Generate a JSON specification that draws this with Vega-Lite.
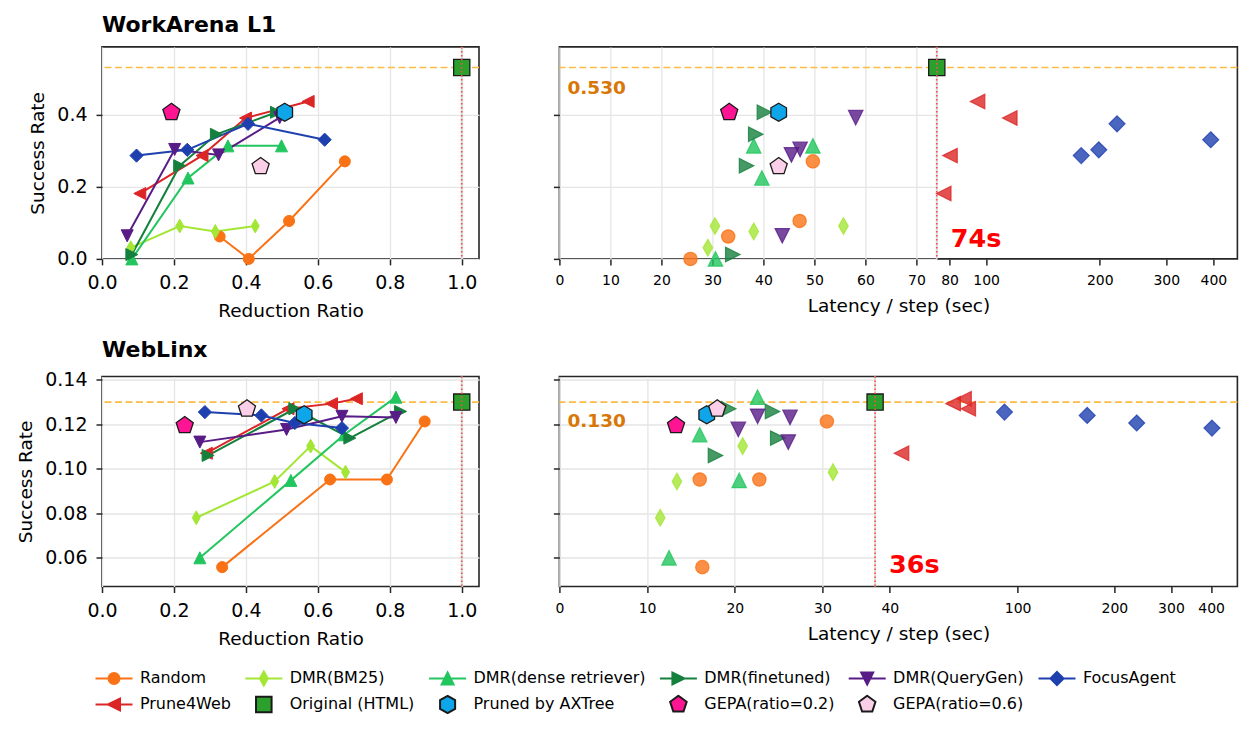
{
  "$schema": "https://vega.github.io/schema/vega-lite/v6.json",
  "background": "white",
  "padding": {"left": 15, "top": 12.9, "right": 10, "bottom": 5},
  "config": {
    "font": "DejaVu Sans",
    "view": {"stroke": "#262626", "strokeWidth": 1.6},
    "axis": {"domain": false, "grid": true, "gridColor": "#e5e5e5", "gridWidth": 1.3, "tickColor": "#262626", "tickWidth": 1.5, "tickSize": 6, "labelFont": "DejaVu Sans", "labelFontSize": 19, "labelColor": "#000000", "labelPadding": 9, "labelFlush": false, "labelOverlap": false, "labelBound": false, "titleFont": "DejaVu Sans", "titleFontSize": 18.5, "titleFontWeight": "normal", "titleColor": "#000000", "titlePadding": 9},
    "title": {"font": "DejaVu Sans", "fontSize": 22, "fontWeight": "bold", "color": "#000000", "anchor": "start", "frame": "group", "baseline": "alphabetic", "offset": 8.5}
  },
  "datasets": {
    "pts": [
      {"bench": "WorkArena L1", "series": "Random", "ratio": 0.327, "success": 0.062, "latency": 33.1},
      {"bench": "WorkArena L1", "series": "Random", "ratio": 0.408, "success": 0.0, "latency": 25.7},
      {"bench": "WorkArena L1", "series": "Random", "ratio": 0.52, "success": 0.105, "latency": 47.1},
      {"bench": "WorkArena L1", "series": "Random", "ratio": 0.675, "success": 0.27, "latency": 49.7},
      {"bench": "WorkArena L1", "series": "Prune4Web", "ratio": 0.105, "success": 0.181, "latency": 77.2},
      {"bench": "WorkArena L1", "series": "Prune4Web", "ratio": 0.278, "success": 0.286, "latency": 80.2},
      {"bench": "WorkArena L1", "series": "Prune4Web", "ratio": 0.399, "success": 0.39, "latency": 115.5},
      {"bench": "WorkArena L1", "series": "Prune4Web", "ratio": 0.573, "success": 0.436, "latency": 94.9},
      {"bench": "WorkArena L1", "series": "DMR(BM25)", "ratio": 0.08, "success": 0.031, "latency": 29.1},
      {"bench": "WorkArena L1", "series": "DMR(BM25)", "ratio": 0.216, "success": 0.091, "latency": 30.5},
      {"bench": "WorkArena L1", "series": "DMR(BM25)", "ratio": 0.315, "success": 0.076, "latency": 38.1},
      {"bench": "WorkArena L1", "series": "DMR(BM25)", "ratio": 0.426, "success": 0.091, "latency": 55.7},
      {"bench": "WorkArena L1", "series": "DMR(dense retriever)", "ratio": 0.083, "success": 0.0, "latency": 30.6},
      {"bench": "WorkArena L1", "series": "DMR(dense retriever)", "ratio": 0.239, "success": 0.224, "latency": 39.7},
      {"bench": "WorkArena L1", "series": "DMR(dense retriever)", "ratio": 0.35, "success": 0.313, "latency": 38.1},
      {"bench": "WorkArena L1", "series": "DMR(dense retriever)", "ratio": 0.499, "success": 0.313, "latency": 49.7},
      {"bench": "WorkArena L1", "series": "DMR(finetuned)", "ratio": 0.083, "success": 0.012, "latency": 34.0},
      {"bench": "WorkArena L1", "series": "DMR(finetuned)", "ratio": 0.216, "success": 0.258, "latency": 36.7},
      {"bench": "WorkArena L1", "series": "DMR(finetuned)", "ratio": 0.318, "success": 0.345, "latency": 38.5},
      {"bench": "WorkArena L1", "series": "DMR(finetuned)", "ratio": 0.485, "success": 0.406, "latency": 40.2},
      {"bench": "WorkArena L1", "series": "DMR(QueryGen)", "ratio": 0.07, "success": 0.064, "latency": 43.7},
      {"bench": "WorkArena L1", "series": "DMR(QueryGen)", "ratio": 0.202, "success": 0.303, "latency": 47.2},
      {"bench": "WorkArena L1", "series": "DMR(QueryGen)", "ratio": 0.324, "success": 0.288, "latency": 45.5},
      {"bench": "WorkArena L1", "series": "DMR(QueryGen)", "ratio": 0.494, "success": 0.391, "latency": 58.1},
      {"bench": "WorkArena L1", "series": "FocusAgent", "ratio": 0.096, "success": 0.286, "latency": 178.6},
      {"bench": "WorkArena L1", "series": "FocusAgent", "ratio": 0.237, "success": 0.302, "latency": 198.8},
      {"bench": "WorkArena L1", "series": "FocusAgent", "ratio": 0.406, "success": 0.374, "latency": 222.2},
      {"bench": "WorkArena L1", "series": "FocusAgent", "ratio": 0.619, "success": 0.33, "latency": 393.5},
      {"bench": "WorkArena L1", "series": "Original (HTML)", "ratio": 1.0, "success": 0.53, "latency": 74},
      {"bench": "WorkArena L1", "series": "Pruned by AXTree", "ratio": 0.508, "success": 0.406, "latency": 43.0},
      {"bench": "WorkArena L1", "series": "GEPA(ratio=0.2)", "ratio": 0.193, "success": 0.406, "latency": 33.3},
      {"bench": "WorkArena L1", "series": "GEPA(ratio=0.6)", "ratio": 0.441, "success": 0.256, "latency": 43.0},
      {"bench": "WebLinx", "series": "Random", "ratio": 0.334, "success": 0.0558, "latency": 16.3},
      {"bench": "WebLinx", "series": "Random", "ratio": 0.634, "success": 0.0952, "latency": 16.0},
      {"bench": "WebLinx", "series": "Random", "ratio": 0.792, "success": 0.0952, "latency": 22.8},
      {"bench": "WebLinx", "series": "Random", "ratio": 0.897, "success": 0.1213, "latency": 30.5},
      {"bench": "WebLinx", "series": "Prune4Web", "ratio": 0.29, "success": 0.107, "latency": 43.5},
      {"bench": "WebLinx", "series": "Prune4Web", "ratio": 0.517, "success": 0.127, "latency": 70.2},
      {"bench": "WebLinx", "series": "Prune4Web", "ratio": 0.638, "success": 0.1293, "latency": 63.0},
      {"bench": "WebLinx", "series": "Prune4Web", "ratio": 0.707, "success": 0.1315, "latency": 68.1},
      {"bench": "WebLinx", "series": "DMR(BM25)", "ratio": 0.262, "success": 0.078, "latency": 11.5},
      {"bench": "WebLinx", "series": "DMR(BM25)", "ratio": 0.48, "success": 0.0943, "latency": 13.4},
      {"bench": "WebLinx", "series": "DMR(BM25)", "ratio": 0.58, "success": 0.1102, "latency": 20.9},
      {"bench": "WebLinx", "series": "DMR(BM25)", "ratio": 0.677, "success": 0.0985, "latency": 31.2},
      {"bench": "WebLinx", "series": "DMR(dense retriever)", "ratio": 0.272, "success": 0.06, "latency": 12.5},
      {"bench": "WebLinx", "series": "DMR(dense retriever)", "ratio": 0.525, "success": 0.0948, "latency": 20.5},
      {"bench": "WebLinx", "series": "DMR(dense retriever)", "ratio": 0.673, "success": 0.1153, "latency": 16.0},
      {"bench": "WebLinx", "series": "DMR(dense retriever)", "ratio": 0.817, "success": 0.1322, "latency": 22.6},
      {"bench": "WebLinx", "series": "DMR(finetuned)", "ratio": 0.295, "success": 0.106, "latency": 17.8},
      {"bench": "WebLinx", "series": "DMR(finetuned)", "ratio": 0.536, "success": 0.127, "latency": 19.3},
      {"bench": "WebLinx", "series": "DMR(finetuned)", "ratio": 0.689, "success": 0.1138, "latency": 24.9},
      {"bench": "WebLinx", "series": "DMR(finetuned)", "ratio": 0.83, "success": 0.1258, "latency": 24.3},
      {"bench": "WebLinx", "series": "DMR(QueryGen)", "ratio": 0.272, "success": 0.112, "latency": 26.1},
      {"bench": "WebLinx", "series": "DMR(QueryGen)", "ratio": 0.513, "success": 0.1177, "latency": 20.4},
      {"bench": "WebLinx", "series": "DMR(QueryGen)", "ratio": 0.667, "success": 0.1236, "latency": 22.6},
      {"bench": "WebLinx", "series": "DMR(QueryGen)", "ratio": 0.817, "success": 0.1231, "latency": 26.3},
      {"bench": "WebLinx", "series": "FocusAgent", "ratio": 0.286, "success": 0.1255, "latency": 91.0},
      {"bench": "WebLinx", "series": "FocusAgent", "ratio": 0.443, "success": 0.124, "latency": 164.6},
      {"bench": "WebLinx", "series": "FocusAgent", "ratio": 0.536, "success": 0.1206, "latency": 234.7},
      {"bench": "WebLinx", "series": "FocusAgent", "ratio": 0.667, "success": 0.1183, "latency": 402.5},
      {"bench": "WebLinx", "series": "Original (HTML)", "ratio": 1.0, "success": 0.13, "latency": 36},
      {"bench": "WebLinx", "series": "Pruned by AXTree", "ratio": 0.562, "success": 0.1243, "latency": 16.8},
      {"bench": "WebLinx", "series": "GEPA(ratio=0.2)", "ratio": 0.23, "success": 0.1195, "latency": 13.3},
      {"bench": "WebLinx", "series": "GEPA(ratio=0.6)", "ratio": 0.403, "success": 0.127, "latency": 18.0}
    ]
  },
  "columns": 2,
  "bounds": "flush",
  "spacing": {"row": 117.6, "column": 80.4},
  "resolve": {"scale": {"color": "independent", "shape": "independent", "stroke": "independent"}},
  "concat": [
    {
      "width": 377, "height": 212,
      "title": {"text": "WorkArena L1"},
      "data": {"name": "pts"},
      "transform": [{"filter": "datum.bench === 'WorkArena L1'"}],
      "layer": [
        {"transform": [{"filter": "datum.series === 'Original (HTML)'"}], "mark": {"type": "rule", "color": "#d9d9d9", "strokeWidth": 2},
         "encoding": {"x": {"field": "ratio", "type": "quantitative", "scale": {"domain": [0, 1.048], "nice": false, "zero": false}, "axis": {"values": [0, 0.2, 0.4, 0.6, 0.8, 1], "format": ".1f", "title": "Reduction Ratio"}}}},
        {"transform": [{"filter": "datum.series === 'Original (HTML)'"}], "mark": {"type": "rule", "color": "#fdba45", "strokeWidth": 1.6, "strokeDash": [7, 3.5]},
         "encoding": {"y": {"field": "success", "type": "quantitative", "scale": {"domain": [0, 0.587], "nice": false, "zero": false}, "axis": {"values": [0, 0.2, 0.4], "format": ".1f", "title": "Success Rate"}}}},
        {"transform": [{"filter": "indexof(['Original (HTML)','Pruned by AXTree','GEPA(ratio=0.2)','GEPA(ratio=0.6)'], datum.series) < 0"}],
         "mark": {"type": "line", "strokeWidth": 2},
         "encoding": {
           "x": {"field": "ratio", "type": "quantitative", "scale": {"domain": [0, 1.048], "nice": false, "zero": false}, "axis": {"values": [0, 0.2, 0.4, 0.6, 0.8, 1], "format": ".1f", "title": "Reduction Ratio"}},
           "y": {"field": "success", "type": "quantitative", "scale": {"domain": [0, 0.587], "nice": false, "zero": false}, "axis": {"values": [0, 0.2, 0.4], "format": ".1f", "title": "Success Rate"}},
           "color": {"field": "series", "type": "nominal", "legend": null, "scale": {"domain": ["Random", "DMR(BM25)", "DMR(dense retriever)", "DMR(finetuned)", "DMR(QueryGen)", "FocusAgent", "Prune4Web", "Original (HTML)", "Pruned by AXTree", "GEPA(ratio=0.2)", "GEPA(ratio=0.6)"], "range": ["#f97316", "#a3e635", "#22c55e", "#15803d", "#581c87", "#1e40af", "#dc2626", "#2ca02c", "#0ea5e9", "#ff1493", "#fbcfe8"]}}
         }},
        {"transform": [{"filter": "indexof(['Original (HTML)','Pruned by AXTree','GEPA(ratio=0.2)','GEPA(ratio=0.6)'], datum.series) < 0"}],
         "mark": {"type": "point", "filled": true, "opacity": 1, "size": 144, "strokeWidth": 1},
         "encoding": {
           "x": {"field": "ratio", "type": "quantitative", "scale": {"domain": [0, 1.048], "nice": false, "zero": false}, "axis": {"values": [0, 0.2, 0.4, 0.6, 0.8, 1], "format": ".1f", "title": "Reduction Ratio"}},
           "y": {"field": "success", "type": "quantitative", "scale": {"domain": [0, 0.587], "nice": false, "zero": false}, "axis": {"values": [0, 0.2, 0.4], "format": ".1f", "title": "Success Rate"}},
           "color": {"field": "series", "type": "nominal", "legend": null, "scale": {"domain": ["Random", "DMR(BM25)", "DMR(dense retriever)", "DMR(finetuned)", "DMR(QueryGen)", "FocusAgent", "Prune4Web", "Original (HTML)", "Pruned by AXTree", "GEPA(ratio=0.2)", "GEPA(ratio=0.6)"], "range": ["#f97316", "#a3e635", "#22c55e", "#15803d", "#581c87", "#1e40af", "#dc2626", "#2ca02c", "#0ea5e9", "#ff1493", "#fbcfe8"]}},
           "stroke": {"field": "series", "type": "nominal", "legend": null, "scale": {"domain": ["Random", "DMR(BM25)", "DMR(dense retriever)", "DMR(finetuned)", "DMR(QueryGen)", "FocusAgent", "Prune4Web", "Original (HTML)", "Pruned by AXTree", "GEPA(ratio=0.2)", "GEPA(ratio=0.6)"], "range": ["#f97316", "#a3e635", "#22c55e", "#15803d", "#581c87", "#1e40af", "#dc2626", "#1a1a1a", "#1a1a1a", "#1a1a1a", "#1a1a1a"]}},
           "shape": {"field": "series", "type": "nominal", "legend": null, "scale": {"domain": ["Random", "DMR(BM25)", "DMR(dense retriever)", "DMR(finetuned)", "DMR(QueryGen)", "FocusAgent", "Prune4Web", "Original (HTML)", "Pruned by AXTree", "GEPA(ratio=0.2)", "GEPA(ratio=0.6)"], "range": ["M0.92,0A0.92,0.92,0,1,1,-0.92,0A0.92,0.92,0,1,1,0.92,0Z", "M0,-1.15L0.66,0L0,1.15L-0.66,0Z", "M0,-1L1,1L-1,1Z", "M1,0L-1,-1L-1,1Z", "M0,1L-1,-1L1,-1Z", "M0,-1.1L1.1,0L0,1.1L-1.1,0Z", "M-1,0L1,-1L1,1Z", "M-0.9,-0.9L0.9,-0.9L0.9,0.9L-0.9,0.9Z", "M0,-1L0.866,-0.5L0.866,0.5L0,1L-0.866,0.5L-0.866,-0.5Z", "M0,-1L0.951,-0.309L0.588,0.809L-0.588,0.809L-0.951,-0.309Z", "M0,-1L0.951,-0.309L0.588,0.809L-0.588,0.809L-0.951,-0.309Z"]}}
         }},
        {"transform": [{"filter": "indexof(['Original (HTML)','Pruned by AXTree','GEPA(ratio=0.2)','GEPA(ratio=0.6)'], datum.series) >= 0"}],
         "mark": {"type": "point", "filled": true, "opacity": 1, "size": 324, "strokeWidth": 1.3},
         "encoding": {
           "x": {"field": "ratio", "type": "quantitative", "scale": {"domain": [0, 1.048], "nice": false, "zero": false}, "axis": {"values": [0, 0.2, 0.4, 0.6, 0.8, 1], "format": ".1f", "title": "Reduction Ratio"}},
           "y": {"field": "success", "type": "quantitative", "scale": {"domain": [0, 0.587], "nice": false, "zero": false}, "axis": {"values": [0, 0.2, 0.4], "format": ".1f", "title": "Success Rate"}},
           "color": {"field": "series", "type": "nominal", "legend": null, "scale": {"domain": ["Random", "DMR(BM25)", "DMR(dense retriever)", "DMR(finetuned)", "DMR(QueryGen)", "FocusAgent", "Prune4Web", "Original (HTML)", "Pruned by AXTree", "GEPA(ratio=0.2)", "GEPA(ratio=0.6)"], "range": ["#f97316", "#a3e635", "#22c55e", "#15803d", "#581c87", "#1e40af", "#dc2626", "#2ca02c", "#0ea5e9", "#ff1493", "#fbcfe8"]}},
           "stroke": {"field": "series", "type": "nominal", "legend": null, "scale": {"domain": ["Random", "DMR(BM25)", "DMR(dense retriever)", "DMR(finetuned)", "DMR(QueryGen)", "FocusAgent", "Prune4Web", "Original (HTML)", "Pruned by AXTree", "GEPA(ratio=0.2)", "GEPA(ratio=0.6)"], "range": ["#f97316", "#a3e635", "#22c55e", "#15803d", "#581c87", "#1e40af", "#dc2626", "#1a1a1a", "#1a1a1a", "#1a1a1a", "#1a1a1a"]}},
           "shape": {"field": "series", "type": "nominal", "legend": null, "scale": {"domain": ["Random", "DMR(BM25)", "DMR(dense retriever)", "DMR(finetuned)", "DMR(QueryGen)", "FocusAgent", "Prune4Web", "Original (HTML)", "Pruned by AXTree", "GEPA(ratio=0.2)", "GEPA(ratio=0.6)"], "range": ["M0.92,0A0.92,0.92,0,1,1,-0.92,0A0.92,0.92,0,1,1,0.92,0Z", "M0,-1.15L0.66,0L0,1.15L-0.66,0Z", "M0,-1L1,1L-1,1Z", "M1,0L-1,-1L-1,1Z", "M0,1L-1,-1L1,-1Z", "M0,-1.1L1.1,0L0,1.1L-1.1,0Z", "M-1,0L1,-1L1,1Z", "M-0.9,-0.9L0.9,-0.9L0.9,0.9L-0.9,0.9Z", "M0,-1L0.866,-0.5L0.866,0.5L0,1L-0.866,0.5L-0.866,-0.5Z", "M0,-1L0.951,-0.309L0.588,0.809L-0.588,0.809L-0.951,-0.309Z", "M0,-1L0.951,-0.309L0.588,0.809L-0.588,0.809L-0.951,-0.309Z"]}}
         }},
        {"transform": [{"filter": "datum.series === 'Original (HTML)'"}], "mark": {"type": "rule", "color": "#ff4d4d", "strokeWidth": 1.6, "strokeDash": [1.6, 2.4]},
         "encoding": {"x": {"field": "ratio", "type": "quantitative", "scale": {"domain": [0, 1.048], "nice": false, "zero": false}, "axis": {"values": [0, 0.2, 0.4, 0.6, 0.8, 1], "format": ".1f", "title": "Reduction Ratio"}}}}
      ]
    },
    {
      "width": 678, "height": 212,
      "data": {"name": "pts"},
      "transform": [{"filter": "datum.bench === 'WorkArena L1'"}],
      "resolve": {"scale": {"x": "independent"}},
      "layer": [
        {"transform": [{"filter": "datum.series === 'Original (HTML)'"}], "mark": {"type": "rule", "color": "#fdba45", "strokeWidth": 1.6, "strokeDash": [7, 3.5]},
         "encoding": {"y": {"field": "success", "type": "quantitative", "scale": {"domain": [0, 0.587], "nice": false, "zero": false}, "axis": {"values": [0, 0.2, 0.4], "labels": false, "title": null}}}},
        {
          "transform": [{"filter": "datum.latency <= 74"}],
          "layer": [
            {"transform": [{"filter": "datum.series === 'Original (HTML)'"}], "mark": {"type": "rule", "color": "#d9d9d9", "strokeWidth": 2},
             "encoding": {"x": {"field": "latency", "type": "quantitative", "scale": {"domain": [0, 74], "range": [0, 377.4], "nice": false, "zero": false}, "axis": {"orient": "bottom", "values": [0, 10, 20, 30, 40, 50, 60, 70], "format": "d", "labelFontSize": 14, "title": "Latency / step (sec)", "titleX": 339}}}},
            {"transform": [{"filter": "indexof(['Original (HTML)','Pruned by AXTree','GEPA(ratio=0.2)','GEPA(ratio=0.6)'], datum.series) < 0"}],
             "mark": {"type": "point", "filled": true, "opacity": 1, "fillOpacity": 0.8, "strokeOpacity": 0.8, "size": 210, "strokeWidth": 1.2},
             "encoding": {
               "x": {"field": "latency", "type": "quantitative", "scale": {"domain": [0, 74], "range": [0, 377.4], "nice": false, "zero": false}, "axis": {"orient": "bottom", "values": [0, 10, 20, 30, 40, 50, 60, 70], "format": "d", "labelFontSize": 14, "title": "Latency / step (sec)", "titleX": 339}},
               "y": {"field": "success", "type": "quantitative", "scale": {"domain": [0, 0.587], "nice": false, "zero": false}, "axis": {"values": [0, 0.2, 0.4], "labels": false, "title": null}},
               "color": {"field": "series", "type": "nominal", "legend": null, "scale": {"domain": ["Random", "DMR(BM25)", "DMR(dense retriever)", "DMR(finetuned)", "DMR(QueryGen)", "FocusAgent", "Prune4Web", "Original (HTML)", "Pruned by AXTree", "GEPA(ratio=0.2)", "GEPA(ratio=0.6)"], "range": ["#f97316", "#a3e635", "#22c55e", "#15803d", "#581c87", "#1e40af", "#dc2626", "#2ca02c", "#0ea5e9", "#ff1493", "#fbcfe8"]}},
               "stroke": {"field": "series", "type": "nominal", "legend": null, "scale": {"domain": ["Random", "DMR(BM25)", "DMR(dense retriever)", "DMR(finetuned)", "DMR(QueryGen)", "FocusAgent", "Prune4Web", "Original (HTML)", "Pruned by AXTree", "GEPA(ratio=0.2)", "GEPA(ratio=0.6)"], "range": ["#f97316", "#a3e635", "#22c55e", "#15803d", "#581c87", "#1e40af", "#dc2626", "#1a1a1a", "#1a1a1a", "#1a1a1a", "#1a1a1a"]}},
               "shape": {"field": "series", "type": "nominal", "legend": null, "scale": {"domain": ["Random", "DMR(BM25)", "DMR(dense retriever)", "DMR(finetuned)", "DMR(QueryGen)", "FocusAgent", "Prune4Web", "Original (HTML)", "Pruned by AXTree", "GEPA(ratio=0.2)", "GEPA(ratio=0.6)"], "range": ["M0.92,0A0.92,0.92,0,1,1,-0.92,0A0.92,0.92,0,1,1,0.92,0Z", "M0,-1.15L0.66,0L0,1.15L-0.66,0Z", "M0,-1L1,1L-1,1Z", "M1,0L-1,-1L-1,1Z", "M0,1L-1,-1L1,-1Z", "M0,-1.1L1.1,0L0,1.1L-1.1,0Z", "M-1,0L1,-1L1,1Z", "M-0.9,-0.9L0.9,-0.9L0.9,0.9L-0.9,0.9Z", "M0,-1L0.866,-0.5L0.866,0.5L0,1L-0.866,0.5L-0.866,-0.5Z", "M0,-1L0.951,-0.309L0.588,0.809L-0.588,0.809L-0.951,-0.309Z", "M0,-1L0.951,-0.309L0.588,0.809L-0.588,0.809L-0.951,-0.309Z"]}}
             }},
            {"transform": [{"filter": "indexof(['Original (HTML)','Pruned by AXTree','GEPA(ratio=0.2)','GEPA(ratio=0.6)'], datum.series) >= 0"}],
             "mark": {"type": "point", "filled": true, "opacity": 1, "size": 324, "strokeWidth": 1.3},
             "encoding": {
               "x": {"field": "latency", "type": "quantitative", "scale": {"domain": [0, 74], "range": [0, 377.4], "nice": false, "zero": false}, "axis": {"orient": "bottom", "values": [0, 10, 20, 30, 40, 50, 60, 70], "format": "d", "labelFontSize": 14, "title": "Latency / step (sec)", "titleX": 339}},
               "y": {"field": "success", "type": "quantitative", "scale": {"domain": [0, 0.587], "nice": false, "zero": false}, "axis": {"values": [0, 0.2, 0.4], "labels": false, "title": null}},
               "color": {"field": "series", "type": "nominal", "legend": null, "scale": {"domain": ["Random", "DMR(BM25)", "DMR(dense retriever)", "DMR(finetuned)", "DMR(QueryGen)", "FocusAgent", "Prune4Web", "Original (HTML)", "Pruned by AXTree", "GEPA(ratio=0.2)", "GEPA(ratio=0.6)"], "range": ["#f97316", "#a3e635", "#22c55e", "#15803d", "#581c87", "#1e40af", "#dc2626", "#2ca02c", "#0ea5e9", "#ff1493", "#fbcfe8"]}},
               "stroke": {"field": "series", "type": "nominal", "legend": null, "scale": {"domain": ["Random", "DMR(BM25)", "DMR(dense retriever)", "DMR(finetuned)", "DMR(QueryGen)", "FocusAgent", "Prune4Web", "Original (HTML)", "Pruned by AXTree", "GEPA(ratio=0.2)", "GEPA(ratio=0.6)"], "range": ["#f97316", "#a3e635", "#22c55e", "#15803d", "#581c87", "#1e40af", "#dc2626", "#1a1a1a", "#1a1a1a", "#1a1a1a", "#1a1a1a"]}},
               "shape": {"field": "series", "type": "nominal", "legend": null, "scale": {"domain": ["Random", "DMR(BM25)", "DMR(dense retriever)", "DMR(finetuned)", "DMR(QueryGen)", "FocusAgent", "Prune4Web", "Original (HTML)", "Pruned by AXTree", "GEPA(ratio=0.2)", "GEPA(ratio=0.6)"], "range": ["M0.92,0A0.92,0.92,0,1,1,-0.92,0A0.92,0.92,0,1,1,0.92,0Z", "M0,-1.15L0.66,0L0,1.15L-0.66,0Z", "M0,-1L1,1L-1,1Z", "M1,0L-1,-1L-1,1Z", "M0,1L-1,-1L1,-1Z", "M0,-1.1L1.1,0L0,1.1L-1.1,0Z", "M-1,0L1,-1L1,1Z", "M-0.9,-0.9L0.9,-0.9L0.9,0.9L-0.9,0.9Z", "M0,-1L0.866,-0.5L0.866,0.5L0,1L-0.866,0.5L-0.866,-0.5Z", "M0,-1L0.951,-0.309L0.588,0.809L-0.588,0.809L-0.951,-0.309Z", "M0,-1L0.951,-0.309L0.588,0.809L-0.588,0.809L-0.951,-0.309Z"]}}
             }},
            {"transform": [{"filter": "datum.series === 'Original (HTML)'"}], "mark": {"type": "rule", "color": "#ff4d4d", "strokeWidth": 1.6, "strokeDash": [1.6, 2.4]},
             "encoding": {"x": {"field": "latency", "type": "quantitative", "scale": {"domain": [0, 74], "range": [0, 377.4], "nice": false, "zero": false}, "axis": {"orient": "bottom", "values": [0, 10, 20, 30, 40, 50, 60, 70], "format": "d", "labelFontSize": 14, "title": "Latency / step (sec)", "titleX": 339}}}},
            {"transform": [{"filter": "datum.series === 'Original (HTML)'"}],
             "mark": {"type": "text", "align": "left", "baseline": "alphabetic", "dx": 8, "dy": 27, "fontSize": 18.5, "fontWeight": "bold", "color": "#d97706"},
             "encoding": {
               "x": {"datum": 0, "type": "quantitative", "scale": {"domain": [0, 74], "range": [0, 377.4], "nice": false, "zero": false}, "axis": {"orient": "bottom", "values": [0, 10, 20, 30, 40, 50, 60, 70], "format": "d", "labelFontSize": 14, "title": "Latency / step (sec)", "titleX": 339}},
               "y": {"field": "success", "type": "quantitative", "scale": {"domain": [0, 0.587], "nice": false, "zero": false}, "axis": {"values": [0, 0.2, 0.4], "labels": false, "title": null}},
               "text": {"field": "success", "type": "quantitative", "format": ".3f"}
             }},
            {"transform": [{"filter": "datum.series === 'Original (HTML)'"}, {"calculate": "format(datum.latency, 'd') + 's'", "as": "lat_label"}],
             "mark": {"type": "text", "align": "left", "baseline": "alphabetic", "dx": 14, "dy": -12, "fontSize": 25.5, "fontWeight": "bold", "color": "#ff0000"},
             "encoding": {
               "x": {"field": "latency", "type": "quantitative", "scale": {"domain": [0, 74], "range": [0, 377.4], "nice": false, "zero": false}, "axis": {"orient": "bottom", "values": [0, 10, 20, 30, 40, 50, 60, 70], "format": "d", "labelFontSize": 14, "title": "Latency / step (sec)", "titleX": 339}},
               "y": {"datum": 0, "type": "quantitative", "scale": {"domain": [0, 0.587], "nice": false, "zero": false}, "axis": {"values": [0, 0.2, 0.4], "labels": false, "title": null}},
               "text": {"field": "lat_label", "type": "nominal"}
             }}
          ]
        },
        {
          "transform": [{"filter": "datum.latency > 74"}],
          "layer": [
            {"transform": [{"filter": "indexof(['Original (HTML)','Pruned by AXTree','GEPA(ratio=0.2)','GEPA(ratio=0.6)'], datum.series) < 0"}],
             "mark": {"type": "point", "filled": true, "opacity": 1, "fillOpacity": 0.8, "strokeOpacity": 0.8, "size": 210, "strokeWidth": 1.2},
             "encoding": {
               "x": {"field": "latency", "type": "quantitative", "scale": {"type": "log", "domain": [74, 463], "range": [377.4, 678], "nice": false}, "axis": {"orient": "bottom", "values": [80, 100, 200, 300, 400], "format": "d", "labelFontSize": 14, "title": null}},
               "y": {"field": "success", "type": "quantitative", "scale": {"domain": [0, 0.587], "nice": false, "zero": false}, "axis": {"values": [0, 0.2, 0.4], "labels": false, "title": null}},
               "color": {"field": "series", "type": "nominal", "legend": null, "scale": {"domain": ["Random", "DMR(BM25)", "DMR(dense retriever)", "DMR(finetuned)", "DMR(QueryGen)", "FocusAgent", "Prune4Web", "Original (HTML)", "Pruned by AXTree", "GEPA(ratio=0.2)", "GEPA(ratio=0.6)"], "range": ["#f97316", "#a3e635", "#22c55e", "#15803d", "#581c87", "#1e40af", "#dc2626", "#2ca02c", "#0ea5e9", "#ff1493", "#fbcfe8"]}},
               "stroke": {"field": "series", "type": "nominal", "legend": null, "scale": {"domain": ["Random", "DMR(BM25)", "DMR(dense retriever)", "DMR(finetuned)", "DMR(QueryGen)", "FocusAgent", "Prune4Web", "Original (HTML)", "Pruned by AXTree", "GEPA(ratio=0.2)", "GEPA(ratio=0.6)"], "range": ["#f97316", "#a3e635", "#22c55e", "#15803d", "#581c87", "#1e40af", "#dc2626", "#1a1a1a", "#1a1a1a", "#1a1a1a", "#1a1a1a"]}},
               "shape": {"field": "series", "type": "nominal", "legend": null, "scale": {"domain": ["Random", "DMR(BM25)", "DMR(dense retriever)", "DMR(finetuned)", "DMR(QueryGen)", "FocusAgent", "Prune4Web", "Original (HTML)", "Pruned by AXTree", "GEPA(ratio=0.2)", "GEPA(ratio=0.6)"], "range": ["M0.92,0A0.92,0.92,0,1,1,-0.92,0A0.92,0.92,0,1,1,0.92,0Z", "M0,-1.15L0.66,0L0,1.15L-0.66,0Z", "M0,-1L1,1L-1,1Z", "M1,0L-1,-1L-1,1Z", "M0,1L-1,-1L1,-1Z", "M0,-1.1L1.1,0L0,1.1L-1.1,0Z", "M-1,0L1,-1L1,1Z", "M-0.9,-0.9L0.9,-0.9L0.9,0.9L-0.9,0.9Z", "M0,-1L0.866,-0.5L0.866,0.5L0,1L-0.866,0.5L-0.866,-0.5Z", "M0,-1L0.951,-0.309L0.588,0.809L-0.588,0.809L-0.951,-0.309Z", "M0,-1L0.951,-0.309L0.588,0.809L-0.588,0.809L-0.951,-0.309Z"]}}
             }}
          ]
        }
      ]
    },
    {
      "width": 377, "height": 210,
      "title": {"text": "WebLinx"},
      "data": {"name": "pts"},
      "transform": [{"filter": "datum.bench === 'WebLinx'"}],
      "layer": [
        {"transform": [{"filter": "datum.series === 'Original (HTML)'"}], "mark": {"type": "rule", "color": "#d9d9d9", "strokeWidth": 2},
         "encoding": {"x": {"field": "ratio", "type": "quantitative", "scale": {"domain": [0, 1.048], "nice": false, "zero": false}, "axis": {"values": [0, 0.2, 0.4, 0.6, 0.8, 1], "format": ".1f", "title": "Reduction Ratio"}}}},
        {"transform": [{"filter": "datum.series === 'Original (HTML)'"}], "mark": {"type": "rule", "color": "#fdba45", "strokeWidth": 1.6, "strokeDash": [7, 3.5]},
         "encoding": {"y": {"field": "success", "type": "quantitative", "scale": {"domain": [0.0471, 0.1415], "nice": false, "zero": false}, "axis": {"values": [0.06, 0.08, 0.1, 0.12, 0.14], "format": ".2f", "title": "Success Rate"}}}},
        {"transform": [{"filter": "indexof(['Original (HTML)','Pruned by AXTree','GEPA(ratio=0.2)','GEPA(ratio=0.6)'], datum.series) < 0"}],
         "mark": {"type": "line", "strokeWidth": 2},
         "encoding": {
           "x": {"field": "ratio", "type": "quantitative", "scale": {"domain": [0, 1.048], "nice": false, "zero": false}, "axis": {"values": [0, 0.2, 0.4, 0.6, 0.8, 1], "format": ".1f", "title": "Reduction Ratio"}},
           "y": {"field": "success", "type": "quantitative", "scale": {"domain": [0.0471, 0.1415], "nice": false, "zero": false}, "axis": {"values": [0.06, 0.08, 0.1, 0.12, 0.14], "format": ".2f", "title": "Success Rate"}},
           "color": {"field": "series", "type": "nominal", "legend": null, "scale": {"domain": ["Random", "DMR(BM25)", "DMR(dense retriever)", "DMR(finetuned)", "DMR(QueryGen)", "FocusAgent", "Prune4Web", "Original (HTML)", "Pruned by AXTree", "GEPA(ratio=0.2)", "GEPA(ratio=0.6)"], "range": ["#f97316", "#a3e635", "#22c55e", "#15803d", "#581c87", "#1e40af", "#dc2626", "#2ca02c", "#0ea5e9", "#ff1493", "#fbcfe8"]}}
         }},
        {"transform": [{"filter": "indexof(['Original (HTML)','Pruned by AXTree','GEPA(ratio=0.2)','GEPA(ratio=0.6)'], datum.series) < 0"}],
         "mark": {"type": "point", "filled": true, "opacity": 1, "size": 144, "strokeWidth": 1},
         "encoding": {
           "x": {"field": "ratio", "type": "quantitative", "scale": {"domain": [0, 1.048], "nice": false, "zero": false}, "axis": {"values": [0, 0.2, 0.4, 0.6, 0.8, 1], "format": ".1f", "title": "Reduction Ratio"}},
           "y": {"field": "success", "type": "quantitative", "scale": {"domain": [0.0471, 0.1415], "nice": false, "zero": false}, "axis": {"values": [0.06, 0.08, 0.1, 0.12, 0.14], "format": ".2f", "title": "Success Rate"}},
           "color": {"field": "series", "type": "nominal", "legend": null, "scale": {"domain": ["Random", "DMR(BM25)", "DMR(dense retriever)", "DMR(finetuned)", "DMR(QueryGen)", "FocusAgent", "Prune4Web", "Original (HTML)", "Pruned by AXTree", "GEPA(ratio=0.2)", "GEPA(ratio=0.6)"], "range": ["#f97316", "#a3e635", "#22c55e", "#15803d", "#581c87", "#1e40af", "#dc2626", "#2ca02c", "#0ea5e9", "#ff1493", "#fbcfe8"]}},
           "stroke": {"field": "series", "type": "nominal", "legend": null, "scale": {"domain": ["Random", "DMR(BM25)", "DMR(dense retriever)", "DMR(finetuned)", "DMR(QueryGen)", "FocusAgent", "Prune4Web", "Original (HTML)", "Pruned by AXTree", "GEPA(ratio=0.2)", "GEPA(ratio=0.6)"], "range": ["#f97316", "#a3e635", "#22c55e", "#15803d", "#581c87", "#1e40af", "#dc2626", "#1a1a1a", "#1a1a1a", "#1a1a1a", "#1a1a1a"]}},
           "shape": {"field": "series", "type": "nominal", "legend": null, "scale": {"domain": ["Random", "DMR(BM25)", "DMR(dense retriever)", "DMR(finetuned)", "DMR(QueryGen)", "FocusAgent", "Prune4Web", "Original (HTML)", "Pruned by AXTree", "GEPA(ratio=0.2)", "GEPA(ratio=0.6)"], "range": ["M0.92,0A0.92,0.92,0,1,1,-0.92,0A0.92,0.92,0,1,1,0.92,0Z", "M0,-1.15L0.66,0L0,1.15L-0.66,0Z", "M0,-1L1,1L-1,1Z", "M1,0L-1,-1L-1,1Z", "M0,1L-1,-1L1,-1Z", "M0,-1.1L1.1,0L0,1.1L-1.1,0Z", "M-1,0L1,-1L1,1Z", "M-0.9,-0.9L0.9,-0.9L0.9,0.9L-0.9,0.9Z", "M0,-1L0.866,-0.5L0.866,0.5L0,1L-0.866,0.5L-0.866,-0.5Z", "M0,-1L0.951,-0.309L0.588,0.809L-0.588,0.809L-0.951,-0.309Z", "M0,-1L0.951,-0.309L0.588,0.809L-0.588,0.809L-0.951,-0.309Z"]}}
         }},
        {"transform": [{"filter": "indexof(['Original (HTML)','Pruned by AXTree','GEPA(ratio=0.2)','GEPA(ratio=0.6)'], datum.series) >= 0"}],
         "mark": {"type": "point", "filled": true, "opacity": 1, "size": 324, "strokeWidth": 1.3},
         "encoding": {
           "x": {"field": "ratio", "type": "quantitative", "scale": {"domain": [0, 1.048], "nice": false, "zero": false}, "axis": {"values": [0, 0.2, 0.4, 0.6, 0.8, 1], "format": ".1f", "title": "Reduction Ratio"}},
           "y": {"field": "success", "type": "quantitative", "scale": {"domain": [0.0471, 0.1415], "nice": false, "zero": false}, "axis": {"values": [0.06, 0.08, 0.1, 0.12, 0.14], "format": ".2f", "title": "Success Rate"}},
           "color": {"field": "series", "type": "nominal", "legend": null, "scale": {"domain": ["Random", "DMR(BM25)", "DMR(dense retriever)", "DMR(finetuned)", "DMR(QueryGen)", "FocusAgent", "Prune4Web", "Original (HTML)", "Pruned by AXTree", "GEPA(ratio=0.2)", "GEPA(ratio=0.6)"], "range": ["#f97316", "#a3e635", "#22c55e", "#15803d", "#581c87", "#1e40af", "#dc2626", "#2ca02c", "#0ea5e9", "#ff1493", "#fbcfe8"]}},
           "stroke": {"field": "series", "type": "nominal", "legend": null, "scale": {"domain": ["Random", "DMR(BM25)", "DMR(dense retriever)", "DMR(finetuned)", "DMR(QueryGen)", "FocusAgent", "Prune4Web", "Original (HTML)", "Pruned by AXTree", "GEPA(ratio=0.2)", "GEPA(ratio=0.6)"], "range": ["#f97316", "#a3e635", "#22c55e", "#15803d", "#581c87", "#1e40af", "#dc2626", "#1a1a1a", "#1a1a1a", "#1a1a1a", "#1a1a1a"]}},
           "shape": {"field": "series", "type": "nominal", "legend": null, "scale": {"domain": ["Random", "DMR(BM25)", "DMR(dense retriever)", "DMR(finetuned)", "DMR(QueryGen)", "FocusAgent", "Prune4Web", "Original (HTML)", "Pruned by AXTree", "GEPA(ratio=0.2)", "GEPA(ratio=0.6)"], "range": ["M0.92,0A0.92,0.92,0,1,1,-0.92,0A0.92,0.92,0,1,1,0.92,0Z", "M0,-1.15L0.66,0L0,1.15L-0.66,0Z", "M0,-1L1,1L-1,1Z", "M1,0L-1,-1L-1,1Z", "M0,1L-1,-1L1,-1Z", "M0,-1.1L1.1,0L0,1.1L-1.1,0Z", "M-1,0L1,-1L1,1Z", "M-0.9,-0.9L0.9,-0.9L0.9,0.9L-0.9,0.9Z", "M0,-1L0.866,-0.5L0.866,0.5L0,1L-0.866,0.5L-0.866,-0.5Z", "M0,-1L0.951,-0.309L0.588,0.809L-0.588,0.809L-0.951,-0.309Z", "M0,-1L0.951,-0.309L0.588,0.809L-0.588,0.809L-0.951,-0.309Z"]}}
         }},
        {"transform": [{"filter": "datum.series === 'Original (HTML)'"}], "mark": {"type": "rule", "color": "#ff4d4d", "strokeWidth": 1.6, "strokeDash": [1.6, 2.4]},
         "encoding": {"x": {"field": "ratio", "type": "quantitative", "scale": {"domain": [0, 1.048], "nice": false, "zero": false}, "axis": {"values": [0, 0.2, 0.4, 0.6, 0.8, 1], "format": ".1f", "title": "Reduction Ratio"}}}}
      ]
    },
    {
      "width": 678, "height": 210,
      "data": {"name": "pts"},
      "transform": [{"filter": "datum.bench === 'WebLinx'"}],
      "resolve": {"scale": {"x": "independent"}},
      "layer": [
        {"transform": [{"filter": "datum.series === 'Original (HTML)'"}], "mark": {"type": "rule", "color": "#fdba45", "strokeWidth": 1.6, "strokeDash": [7, 3.5]},
         "encoding": {"y": {"field": "success", "type": "quantitative", "scale": {"domain": [0.0471, 0.1415], "nice": false, "zero": false}, "axis": {"values": [0.06, 0.08, 0.1, 0.12, 0.14], "labels": false, "title": null}}}},
        {
          "transform": [{"filter": "datum.latency <= 36"}],
          "layer": [
            {"transform": [{"filter": "datum.series === 'Original (HTML)'"}], "mark": {"type": "rule", "color": "#d9d9d9", "strokeWidth": 2},
             "encoding": {"x": {"field": "latency", "type": "quantitative", "scale": {"domain": [0, 36], "range": [0, 315.7], "nice": false, "zero": false}, "axis": {"orient": "bottom", "values": [0, 10, 20, 30], "format": "d", "labelFontSize": 14, "title": "Latency / step (sec)", "titleX": 339}}}},
            {"transform": [{"filter": "indexof(['Original (HTML)','Pruned by AXTree','GEPA(ratio=0.2)','GEPA(ratio=0.6)'], datum.series) < 0"}],
             "mark": {"type": "point", "filled": true, "opacity": 1, "fillOpacity": 0.8, "strokeOpacity": 0.8, "size": 210, "strokeWidth": 1.2},
             "encoding": {
               "x": {"field": "latency", "type": "quantitative", "scale": {"domain": [0, 36], "range": [0, 315.7], "nice": false, "zero": false}, "axis": {"orient": "bottom", "values": [0, 10, 20, 30], "format": "d", "labelFontSize": 14, "title": "Latency / step (sec)", "titleX": 339}},
               "y": {"field": "success", "type": "quantitative", "scale": {"domain": [0.0471, 0.1415], "nice": false, "zero": false}, "axis": {"values": [0.06, 0.08, 0.1, 0.12, 0.14], "labels": false, "title": null}},
               "color": {"field": "series", "type": "nominal", "legend": null, "scale": {"domain": ["Random", "DMR(BM25)", "DMR(dense retriever)", "DMR(finetuned)", "DMR(QueryGen)", "FocusAgent", "Prune4Web", "Original (HTML)", "Pruned by AXTree", "GEPA(ratio=0.2)", "GEPA(ratio=0.6)"], "range": ["#f97316", "#a3e635", "#22c55e", "#15803d", "#581c87", "#1e40af", "#dc2626", "#2ca02c", "#0ea5e9", "#ff1493", "#fbcfe8"]}},
               "stroke": {"field": "series", "type": "nominal", "legend": null, "scale": {"domain": ["Random", "DMR(BM25)", "DMR(dense retriever)", "DMR(finetuned)", "DMR(QueryGen)", "FocusAgent", "Prune4Web", "Original (HTML)", "Pruned by AXTree", "GEPA(ratio=0.2)", "GEPA(ratio=0.6)"], "range": ["#f97316", "#a3e635", "#22c55e", "#15803d", "#581c87", "#1e40af", "#dc2626", "#1a1a1a", "#1a1a1a", "#1a1a1a", "#1a1a1a"]}},
               "shape": {"field": "series", "type": "nominal", "legend": null, "scale": {"domain": ["Random", "DMR(BM25)", "DMR(dense retriever)", "DMR(finetuned)", "DMR(QueryGen)", "FocusAgent", "Prune4Web", "Original (HTML)", "Pruned by AXTree", "GEPA(ratio=0.2)", "GEPA(ratio=0.6)"], "range": ["M0.92,0A0.92,0.92,0,1,1,-0.92,0A0.92,0.92,0,1,1,0.92,0Z", "M0,-1.15L0.66,0L0,1.15L-0.66,0Z", "M0,-1L1,1L-1,1Z", "M1,0L-1,-1L-1,1Z", "M0,1L-1,-1L1,-1Z", "M0,-1.1L1.1,0L0,1.1L-1.1,0Z", "M-1,0L1,-1L1,1Z", "M-0.9,-0.9L0.9,-0.9L0.9,0.9L-0.9,0.9Z", "M0,-1L0.866,-0.5L0.866,0.5L0,1L-0.866,0.5L-0.866,-0.5Z", "M0,-1L0.951,-0.309L0.588,0.809L-0.588,0.809L-0.951,-0.309Z", "M0,-1L0.951,-0.309L0.588,0.809L-0.588,0.809L-0.951,-0.309Z"]}}
             }},
            {"transform": [{"filter": "indexof(['Original (HTML)','Pruned by AXTree','GEPA(ratio=0.2)','GEPA(ratio=0.6)'], datum.series) >= 0"}],
             "mark": {"type": "point", "filled": true, "opacity": 1, "size": 324, "strokeWidth": 1.3},
             "encoding": {
               "x": {"field": "latency", "type": "quantitative", "scale": {"domain": [0, 36], "range": [0, 315.7], "nice": false, "zero": false}, "axis": {"orient": "bottom", "values": [0, 10, 20, 30], "format": "d", "labelFontSize": 14, "title": "Latency / step (sec)", "titleX": 339}},
               "y": {"field": "success", "type": "quantitative", "scale": {"domain": [0.0471, 0.1415], "nice": false, "zero": false}, "axis": {"values": [0.06, 0.08, 0.1, 0.12, 0.14], "labels": false, "title": null}},
               "color": {"field": "series", "type": "nominal", "legend": null, "scale": {"domain": ["Random", "DMR(BM25)", "DMR(dense retriever)", "DMR(finetuned)", "DMR(QueryGen)", "FocusAgent", "Prune4Web", "Original (HTML)", "Pruned by AXTree", "GEPA(ratio=0.2)", "GEPA(ratio=0.6)"], "range": ["#f97316", "#a3e635", "#22c55e", "#15803d", "#581c87", "#1e40af", "#dc2626", "#2ca02c", "#0ea5e9", "#ff1493", "#fbcfe8"]}},
               "stroke": {"field": "series", "type": "nominal", "legend": null, "scale": {"domain": ["Random", "DMR(BM25)", "DMR(dense retriever)", "DMR(finetuned)", "DMR(QueryGen)", "FocusAgent", "Prune4Web", "Original (HTML)", "Pruned by AXTree", "GEPA(ratio=0.2)", "GEPA(ratio=0.6)"], "range": ["#f97316", "#a3e635", "#22c55e", "#15803d", "#581c87", "#1e40af", "#dc2626", "#1a1a1a", "#1a1a1a", "#1a1a1a", "#1a1a1a"]}},
               "shape": {"field": "series", "type": "nominal", "legend": null, "scale": {"domain": ["Random", "DMR(BM25)", "DMR(dense retriever)", "DMR(finetuned)", "DMR(QueryGen)", "FocusAgent", "Prune4Web", "Original (HTML)", "Pruned by AXTree", "GEPA(ratio=0.2)", "GEPA(ratio=0.6)"], "range": ["M0.92,0A0.92,0.92,0,1,1,-0.92,0A0.92,0.92,0,1,1,0.92,0Z", "M0,-1.15L0.66,0L0,1.15L-0.66,0Z", "M0,-1L1,1L-1,1Z", "M1,0L-1,-1L-1,1Z", "M0,1L-1,-1L1,-1Z", "M0,-1.1L1.1,0L0,1.1L-1.1,0Z", "M-1,0L1,-1L1,1Z", "M-0.9,-0.9L0.9,-0.9L0.9,0.9L-0.9,0.9Z", "M0,-1L0.866,-0.5L0.866,0.5L0,1L-0.866,0.5L-0.866,-0.5Z", "M0,-1L0.951,-0.309L0.588,0.809L-0.588,0.809L-0.951,-0.309Z", "M0,-1L0.951,-0.309L0.588,0.809L-0.588,0.809L-0.951,-0.309Z"]}}
             }},
            {"transform": [{"filter": "datum.series === 'Original (HTML)'"}], "mark": {"type": "rule", "color": "#ff4d4d", "strokeWidth": 1.6, "strokeDash": [1.6, 2.4]},
             "encoding": {"x": {"field": "latency", "type": "quantitative", "scale": {"domain": [0, 36], "range": [0, 315.7], "nice": false, "zero": false}, "axis": {"orient": "bottom", "values": [0, 10, 20, 30], "format": "d", "labelFontSize": 14, "title": "Latency / step (sec)", "titleX": 339}}}},
            {"transform": [{"filter": "datum.series === 'Original (HTML)'"}],
             "mark": {"type": "text", "align": "left", "baseline": "alphabetic", "dx": 8, "dy": 25, "fontSize": 18.5, "fontWeight": "bold", "color": "#d97706"},
             "encoding": {
               "x": {"datum": 0, "type": "quantitative", "scale": {"domain": [0, 36], "range": [0, 315.7], "nice": false, "zero": false}, "axis": {"orient": "bottom", "values": [0, 10, 20, 30], "format": "d", "labelFontSize": 14, "title": "Latency / step (sec)", "titleX": 339}},
               "y": {"field": "success", "type": "quantitative", "scale": {"domain": [0.0471, 0.1415], "nice": false, "zero": false}, "axis": {"values": [0.06, 0.08, 0.1, 0.12, 0.14], "labels": false, "title": null}},
               "text": {"field": "success", "type": "quantitative", "format": ".3f"}
             }},
            {"transform": [{"filter": "datum.series === 'Original (HTML)'"}, {"calculate": "format(datum.latency, 'd') + 's'", "as": "lat_label"}],
             "mark": {"type": "text", "align": "left", "baseline": "alphabetic", "dx": 14, "dy": -13, "fontSize": 25.5, "fontWeight": "bold", "color": "#ff0000"},
             "encoding": {
               "x": {"field": "latency", "type": "quantitative", "scale": {"domain": [0, 36], "range": [0, 315.7], "nice": false, "zero": false}, "axis": {"orient": "bottom", "values": [0, 10, 20, 30], "format": "d", "labelFontSize": 14, "title": "Latency / step (sec)", "titleX": 339}},
               "y": {"datum": 0.0471, "type": "quantitative", "scale": {"domain": [0.0471, 0.1415], "nice": false, "zero": false}, "axis": {"values": [0.06, 0.08, 0.1, 0.12, 0.14], "labels": false, "title": null}},
               "text": {"field": "lat_label", "type": "nominal"}
             }}
          ]
        },
        {
          "transform": [{"filter": "datum.latency > 36"}],
          "layer": [
            {"transform": [{"filter": "indexof(['Original (HTML)','Pruned by AXTree','GEPA(ratio=0.2)','GEPA(ratio=0.6)'], datum.series) < 0"}],
             "mark": {"type": "point", "filled": true, "opacity": 1, "fillOpacity": 0.8, "strokeOpacity": 0.8, "size": 210, "strokeWidth": 1.2},
             "encoding": {
               "x": {"field": "latency", "type": "quantitative", "scale": {"type": "log", "domain": [36, 483], "range": [315.7, 678], "nice": false}, "axis": {"orient": "bottom", "values": [40, 100, 200, 300, 400], "format": "d", "labelFontSize": 14, "title": null}},
               "y": {"field": "success", "type": "quantitative", "scale": {"domain": [0.0471, 0.1415], "nice": false, "zero": false}, "axis": {"values": [0.06, 0.08, 0.1, 0.12, 0.14], "labels": false, "title": null}},
               "color": {"field": "series", "type": "nominal", "legend": null, "scale": {"domain": ["Random", "DMR(BM25)", "DMR(dense retriever)", "DMR(finetuned)", "DMR(QueryGen)", "FocusAgent", "Prune4Web", "Original (HTML)", "Pruned by AXTree", "GEPA(ratio=0.2)", "GEPA(ratio=0.6)"], "range": ["#f97316", "#a3e635", "#22c55e", "#15803d", "#581c87", "#1e40af", "#dc2626", "#2ca02c", "#0ea5e9", "#ff1493", "#fbcfe8"]}},
               "stroke": {"field": "series", "type": "nominal", "legend": null, "scale": {"domain": ["Random", "DMR(BM25)", "DMR(dense retriever)", "DMR(finetuned)", "DMR(QueryGen)", "FocusAgent", "Prune4Web", "Original (HTML)", "Pruned by AXTree", "GEPA(ratio=0.2)", "GEPA(ratio=0.6)"], "range": ["#f97316", "#a3e635", "#22c55e", "#15803d", "#581c87", "#1e40af", "#dc2626", "#1a1a1a", "#1a1a1a", "#1a1a1a", "#1a1a1a"]}},
               "shape": {"field": "series", "type": "nominal", "legend": null, "scale": {"domain": ["Random", "DMR(BM25)", "DMR(dense retriever)", "DMR(finetuned)", "DMR(QueryGen)", "FocusAgent", "Prune4Web", "Original (HTML)", "Pruned by AXTree", "GEPA(ratio=0.2)", "GEPA(ratio=0.6)"], "range": ["M0.92,0A0.92,0.92,0,1,1,-0.92,0A0.92,0.92,0,1,1,0.92,0Z", "M0,-1.15L0.66,0L0,1.15L-0.66,0Z", "M0,-1L1,1L-1,1Z", "M1,0L-1,-1L-1,1Z", "M0,1L-1,-1L1,-1Z", "M0,-1.1L1.1,0L0,1.1L-1.1,0Z", "M-1,0L1,-1L1,1Z", "M-0.9,-0.9L0.9,-0.9L0.9,0.9L-0.9,0.9Z", "M0,-1L0.866,-0.5L0.866,0.5L0,1L-0.866,0.5L-0.866,-0.5Z", "M0,-1L0.951,-0.309L0.588,0.809L-0.588,0.809L-0.951,-0.309Z", "M0,-1L0.951,-0.309L0.588,0.809L-0.588,0.809L-0.951,-0.309Z"]}}
             }}
          ]
        }
      ]
    },
    {
      "width": 377, "height": 20,
      "view": {"stroke": null},
      "data": {"name": "pts"},
      "transform": [{"filter": "datum.ratio < 0"}],
      "mark": {"type": "point", "filled": true, "opacity": 1, "strokeWidth": 2},
      "encoding": {
        "color": {"field": "series", "type": "nominal", "title": null,
          "scale": {"domain": ["Random", "DMR(BM25)", "DMR(dense retriever)", "DMR(finetuned)", "DMR(QueryGen)", "FocusAgent", "Prune4Web", "Original (HTML)", "Pruned by AXTree", "GEPA(ratio=0.2)", "GEPA(ratio=0.6)"], "range": ["#f97316", "#a3e635", "#22c55e", "#15803d", "#581c87", "#1e40af", "#dc2626", "#2ca02c", "#0ea5e9", "#ff1493", "#fbcfe8"]},
          "legend": {"orient": "none", "legendX": -7.5, "legendY": -35.6, "columns": 6, "direction": "horizontal", "symbolSize": 1369, "symbolStrokeWidth": 2, "symbolOpacity": 1, "clipHeight": 20, "labelFont": "DejaVu Sans", "labelFontSize": 16, "labelColor": "#000000", "labelOffset": 6.4, "labelLimit": 400, "columnPadding": 12.8, "rowPadding": 6, "padding": 0, "title": null}},
        "shape": {"field": "series", "type": "nominal", "title": null,
          "scale": {"domain": ["Random", "DMR(BM25)", "DMR(dense retriever)", "DMR(finetuned)", "DMR(QueryGen)", "FocusAgent", "Prune4Web", "Original (HTML)", "Pruned by AXTree", "GEPA(ratio=0.2)", "GEPA(ratio=0.6)"], "range": ["M-1,0L1,0M0.298,0A0.298,0.298,0,1,1,-0.298,0A0.298,0.298,0,1,1,0.298,0Z", "M-1,0L1,0M0,-0.373L0.214,0L0,0.373L-0.214,0Z", "M-1,0L1,0M0,-0.324L0.324,0.324L-0.324,0.324Z", "M-1,0L1,0M0.324,0L-0.324,-0.324L-0.324,0.324Z", "M-1,0L1,0M0,0.324L-0.324,-0.324L0.324,-0.324Z", "M-1,0L1,0M0,-0.356L0.356,0L0,0.356L-0.356,0Z", "M-1,0L1,0M-0.324,0L0.324,-0.324L0.324,0.324Z", "M-0.42,-0.42L0.42,-0.42L0.42,0.42L-0.42,0.42Z", "M0,-0.47L0.407,-0.235L0.407,0.235L0,0.47L-0.407,0.235L-0.407,-0.235Z", "M0,-0.47L0.447,-0.145L0.276,0.38L-0.276,0.38L-0.447,-0.145Z", "M0,-0.47L0.447,-0.145L0.276,0.38L-0.276,0.38L-0.447,-0.145Z"]},
          "legend": {"orient": "none", "legendX": -7.5, "legendY": -35.6, "columns": 6, "direction": "horizontal", "symbolSize": 1369, "symbolStrokeWidth": 2, "symbolOpacity": 1, "clipHeight": 20, "labelFont": "DejaVu Sans", "labelFontSize": 16, "labelColor": "#000000", "labelOffset": 6.4, "labelLimit": 400, "columnPadding": 12.8, "rowPadding": 6, "padding": 0, "title": null}},
        "stroke": {"field": "series", "type": "nominal", "title": null,
          "scale": {"domain": ["Random", "DMR(BM25)", "DMR(dense retriever)", "DMR(finetuned)", "DMR(QueryGen)", "FocusAgent", "Prune4Web", "Original (HTML)", "Pruned by AXTree", "GEPA(ratio=0.2)", "GEPA(ratio=0.6)"], "range": ["#f97316", "#a3e635", "#22c55e", "#15803d", "#581c87", "#1e40af", "#dc2626", "#1a1a1a", "#1a1a1a", "#1a1a1a", "#1a1a1a"]},
          "legend": {"orient": "none", "legendX": -7.5, "legendY": -35.6, "columns": 6, "direction": "horizontal", "symbolSize": 1369, "symbolStrokeWidth": 2, "symbolOpacity": 1, "clipHeight": 20, "labelFont": "DejaVu Sans", "labelFontSize": 16, "labelColor": "#000000", "labelOffset": 6.4, "labelLimit": 400, "columnPadding": 12.8, "rowPadding": 6, "padding": 0, "title": null}}
      }
    }
  ]
}
